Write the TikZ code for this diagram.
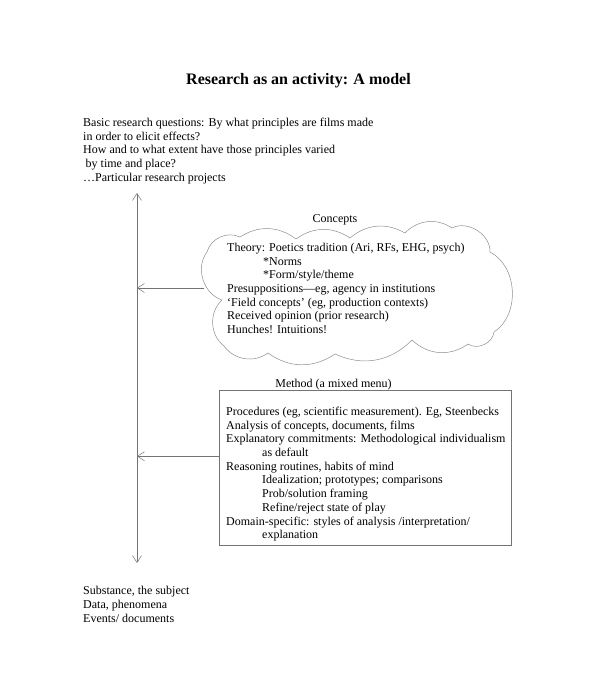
\documentclass[tikz,border=0pt]{standalone}
\usepackage{fontspec}
\setmainfont{Liberation Serif}
\usetikzlibrary{arrows.meta,calc}
\newcommand{\indline}{\hspace*{36pt}}

\begin{document}
\begin{tikzpicture}[x=1pt,y=-1pt,
  txt/.style={anchor=north west,align=left,inner sep=0pt,font=\fontsize{12}{13.7}\selectfont},
  lbl/.style={anchor=base,inner sep=0pt,font=\fontsize{12}{13.7}\selectfont},
  ink/.style={draw=black!55,line width=0.5pt},
  link/.style={ink,-{Straight Barb[length=7pt,width=9pt]}}]
  \useasboundingbox (0,0) rectangle (600,698);
  \node[anchor=base,inner sep=0pt,font=\fontsize{16}{19}\selectfont\bfseries] (title) at (298.5,85) {Research as an activity: A model};
  \node[txt] (questions) at (83,117.8) {Basic research questions: By what principles are films made\\
    in order to elicit effects?\\
    How and to what extent have those principles varied\\
    \hspace*{2.5pt}by time and place?\\
    …Particular research projects};
  \coordinate (axtop) at (137,193);
  \coordinate (axbot) at (137,563);
  \draw[ink,{Straight Barb[length=7pt,width=9pt]}-{Straight Barb[length=7pt,width=9pt]}] (axtop) -- (axbot);
  \coordinate (c1) at (207,252);
  \coordinate (c2) at (240,237);
  \coordinate (c3) at (296,239);
  \coordinate (c4) at (350,238);
  \coordinate (c5) at (405,233);
  \coordinate (c6) at (452,228);
  \coordinate (c7) at (490,252);
  \coordinate (c8) at (494,332);
  \coordinate (c9) at (468,344);
  \coordinate (c10) at (412,340);
  \coordinate (c11) at (335,354);
  \coordinate (c12) at (268,353);
  \coordinate (c13) at (224,346);
  \coordinate (c14) at (222,300);
  \draw[line width=0.5pt,draw=black!45] (c1) to[bend left=50] (c2) to[bend left=35] (c3)
    to[bend left=35] (c4) to[bend left=35] (c5) to[bend left=40] (c6) to[bend left=60] (c7)
    to[bend left=60] (c8) to[bend left=60] (c9) to[bend left=40] (c10) to[bend left=35] (c11)
    to[bend left=35] (c12) to[bend left=45] (c13) to[bend left=50] (c14) to[bend left=55] (c1);
  \node[lbl] (concepts) at (335,222) {Concepts};
  \node[txt] (theory) at (227,242.8) {Theory: Poetics tradition (Ari, RFs, EHG, psych)\\
    \indline *Norms\\
    \indline *Form/style/theme\\
    Presuppositions—eg, agency in institutions\\
    ‘Field concepts’ (eg, production contexts)\\
    Received opinion (prior research)\\
    Hunches! Intuitions!};
  \coordinate (cloudW) at (204,288);
  \draw[link] (cloudW) -- (cloudW -| axtop);
  \node[lbl] (methodlbl) at (333.5,387.5) {Method (a mixed menu)};
  \node[ink,minimum width=292,minimum height=155,anchor=north west,inner sep=0pt] (methbox) at (219,390) {};
  \node[txt] (methods) at (226,406.8) {Procedures (eg, scientific measurement). Eg, Steenbecks\\
    Analysis of concepts, documents, films\\
    Explanatory commitments: Methodological individualism\\
    \indline as default\\
    Reasoning routines, habits of mind\\
    \indline Idealization; prototypes; comparisons\\
    \indline Prob/solution framing\\
    \indline Refine/reject state of play\\
    Domain-specific: styles of analysis /interpretation/\\
    \indline explanation};
  \coordinate (methW) at ($(methbox.north west)!0.426!(methbox.south west)$);
  \draw[link] (methW) -- (methW -| axtop);
  \node[txt] (substance) at (83,586.3) {Substance, the subject\\
    Data, phenomena\\
    Events/ documents};
\end{tikzpicture}
\end{document}
